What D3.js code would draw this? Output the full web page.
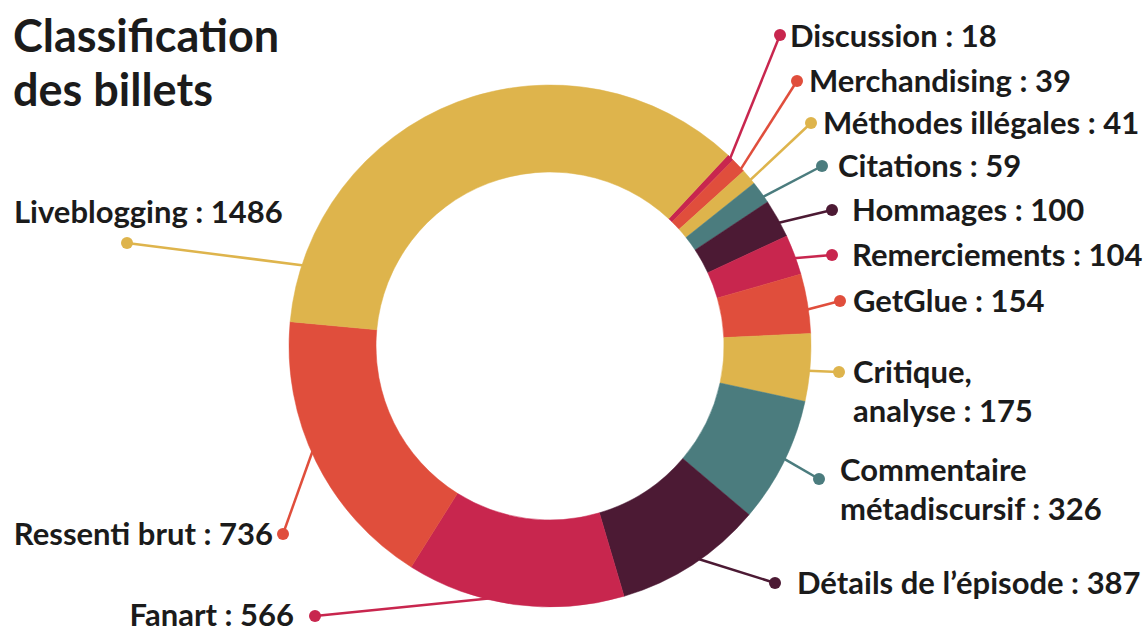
<!DOCTYPE html>
<html>
<head>
<meta charset="utf-8">
<script src="https://cdn.jsdelivr.net/npm/d3@7"></script>
<style>
  body { margin: 0; background: #fff; }
  text { font-family: Lato, "Open Sans", sans-serif; font-weight: bold; fill: #1b1b1b; }
</style>
</head>
<body>
<script>
// data, clockwise from the top-right
var categories = ['Discussion', 'Merchandising', 'Méthodes illégales', 'Citations', 'Hommages',
  'Remerciements', 'GetGlue', 'Critique, analyse', 'Commentaire métadiscursif',
  'Détails de l\u2019épisode', 'Fanart', 'Ressenti brut', 'Liveblogging'];
var values = [18, 39, 41, 59, 100, 104, 154, 175, 326, 387, 566, 736, 1486];
// label text lines
var labelLines = [
  ['Discussion : 18'], ['Merchandising : 39'], ['Méthodes illégales : 41'], ['Citations : 59'],
  ['Hommages : 100'], ['Remerciements : 104'], ['GetGlue : 154'], ['Critique,', 'analyse : 175'],
  ['Commentaire', 'métadiscursif : 326'], ['Détails de l\u2019épisode : 387'], ['Fanart : 566'],
  ['Ressenti brut : 736'], ['Liveblogging : 1486']
];

var palette = ['#c8264e', '#e04e3c', '#deb44c', '#4b7c7e', '#4c1a34'];

var w = 1148, h = 634;
var cx = 550, cy = 346, R = 261, r = 174;

// label layout: dot position, text position, anchor, where the line meets the slice (0..1)
var layout = [
  { dx: 780, dy: 35,  tx: 790, ty: 36,  a: 'start', t: 0.6 },
  { dx: 797, dy: 81,  tx: 809, ty: 81,  a: 'start', t: 0.8 },
  { dx: 811, dy: 123, tx: 823, ty: 123, a: 'start', t: 0.7 },
  { dx: 822, dy: 166, tx: 838, ty: 166, a: 'start', t: 0.7 },
  { dx: 832, dy: 210, tx: 852, ty: 210, a: 'start', t: 0.6 },
  { dx: 832, dy: 255, tx: 852, ty: 255, a: 'start', t: 0.57 },
  { dx: 840, dy: 301, tx: 853, ty: 301, a: 'start', t: 0.6 },
  { dx: 839, dy: 372, tx: 853, ty: 372, a: 'start', t: 0.55 },
  { dx: 819, dy: 479, tx: 840, ty: 470, a: 'start', t: 0.48 },
  { dx: 775, dy: 583, tx: 797, ty: 583, a: 'start', t: 0.45 },
  { dx: 315, dy: 616, tx: 294, ty: 615, a: 'end',   t: 0.61 },
  { dx: 283, dy: 534, tx: 273, ty: 534, a: 'end',   t: 0.54 },
  { dx: 127, dy: 243, tx: 14,  ty: 212, a: 'start', t: 0.1 }
];

var svg = d3.select('body').append('svg')
  .attr('width', w)
  .attr('height', h);

svg.append('text')
  .attr('x', 13)
  .attr('y', 52)
  .style('font-size', '45px')
  .text('Classification');
svg.append('text')
  .attr('x', 13)
  .attr('y', 106)
  .style('font-size', '45px')
  .text('des billets');

var color = function(i) { return palette[i % palette.length]; };

var start = 43 * Math.PI / 180;
var pie = d3.pie().sort(null).startAngle(start).endAngle(start + 2 * Math.PI);
var arcs = pie(values);

var arc = d3.arc().innerRadius(r).outerRadius(R);

var g = svg.append('g').attr('transform', 'translate(' + cx + ',' + cy + ')');

g.selectAll('path.slice')
  .data(arcs)
  .enter().append('path')
  .attr('class', 'slice')
  .attr('d', arc)
  .attr('fill', function(d, i) { return color(i); })
  .attr('stroke', function(d, i) { return color(i); })
  .attr('stroke-width', 0.5);

// leader lines, dots and labels
var labels = svg.append('g');
arcs.forEach(function(d, i) {
  var L = layout[i];
  var ang = d.startAngle + (d.endAngle - d.startAngle) * L.t;
  var px = cx + Math.sin(ang) * (R - 2);
  var py = cy - Math.cos(ang) * (R - 2);

  labels.append('line')
    .attr('x1', px).attr('y1', py)
    .attr('x2', L.dx).attr('y2', L.dy)
    .attr('stroke', color(i))
    .attr('stroke-width', 2.5);

  labels.append('circle')
    .attr('cx', L.dx).attr('cy', L.dy)
    .attr('r', 6)
    .attr('fill', color(i));

  var txt = labels.append('text')
    .attr('x', L.tx)
    .attr('y', L.ty)
    .attr('text-anchor', L.a)
    .style('font-size', '31px');
  labelLines[i].forEach(function(line, k) {
    txt.append('tspan')
      .attr('x', L.tx)
      .attr('dy', k === 0 ? '0.36em' : '1.26em')
      .text(line);
  });
});
</script>
</body>
</html>
